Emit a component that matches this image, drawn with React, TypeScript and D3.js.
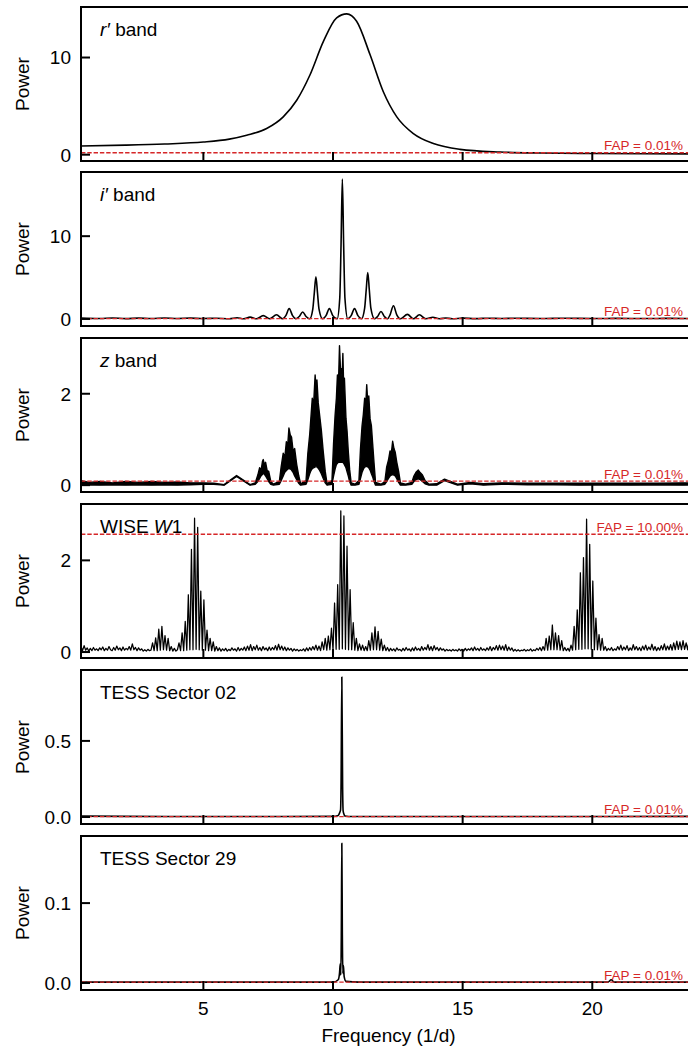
import React, { useEffect, useRef } from 'react';
import * as d3 from 'd3';

// periodogram values: [frequency (1/d), power]
const rBand: [number, number][] = [
  [0.28, 0.89], [2, 0.98], [3.5, 1.1], [5, 1.3], [6, 1.6], [6.67, 2.0], [7.44, 2.69],
  [8.08, 3.89], [8.6, 5.6], [9.11, 8.2], [9.63, 11.66], [10.14, 14.08], [10.53, 14.49],
  [10.91, 13.73], [11.43, 10.28], [11.94, 6.48], [12.46, 3.89], [13.1, 2.17], [13.87, 1.14],
  [14.9, 0.55], [16.45, 0.27], [18, 0.17], [20, 0.12], [22, 0.09], [24, 0.08],
];

const iBand: [number, number][] = [
  [0.28, 0.1], [1, 0.05], [1.5, 0.12], [2, 0.04], [2.5, 0.1], [3, 0.05], [3.5, 0.12], [4, 0.06],
  [4.5, 0.1], [5, 0.05], [5.5, 0.08], [6, 0.03], [6.3, 0.15], [6.55, 0.02], [6.8, 0.22], [7.05, 0.02],
  [7.31, 0.4], [7.55, 0.02], [7.82, 0.5], [8.06, 0.02], [8.18, 0.4], [8.31, 1.25], [8.44, 0.4],
  [8.57, 0.02], [8.7, 0.3], [8.83, 0.85], [8.96, 0.3], [9.1, 0.02], [9.22, 1.2], [9.28, 3.2],
  [9.34, 5.1], [9.4, 3.2], [9.46, 1.2], [9.6, 0.02], [9.73, 0.4], [9.86, 1.25], [9.99, 0.4],
  [10.16, 0.02], [10.26, 2.5], [10.31, 9.0], [10.36, 16.9], [10.41, 9.0], [10.46, 2.5], [10.57, 0.02],
  [10.7, 0.4], [10.83, 1.25], [10.96, 0.4], [11.1, 0.02], [11.22, 1.3], [11.28, 3.5], [11.34, 5.6],
  [11.4, 3.5], [11.46, 1.3], [11.6, 0.02], [11.72, 0.3], [11.85, 0.9], [11.98, 0.3], [12.1, 0.02],
  [12.2, 0.5], [12.33, 1.6], [12.46, 0.5], [12.6, 0.02], [12.87, 0.55], [13.1, 0.02], [13.33, 0.5],
  [13.58, 0.02], [13.85, 0.2], [14.1, 0.02], [14.35, 0.12], [14.6, 0.03], [15, 0.1], [15.5, 0.04],
  [16, 0.09], [16.5, 0.05], [17, 0.08], [18, 0.06], [19, 0.08], [20, 0.05], [21, 0.07], [22, 0.05],
  [23, 0.07], [24, 0.05],
];

// z band is too dense to resolve: [frequency, lower envelope, upper envelope]
const zBand: [number, number, number][] = [
  [0.28, 0.0, 0.1], [0.6, 0.01, 0.06], [1.0, 0.0, 0.08], [1.5, 0.01, 0.05], [2.0, 0.0, 0.08],
  [2.5, 0.01, 0.06], [3.0, 0.0, 0.08], [3.5, 0.01, 0.06], [4.0, 0.0, 0.07], [4.5, 0.01, 0.05],
  [5.0, 0.02, 0.05], [5.4, 0.02, 0.04], [5.8, 0.0, 0.01], [6.28, 0.19, 0.21], [6.8, 0.0, 0.01],
  [7.0, 0.02, 0.05], [7.1, 0.08, 0.22], [7.17, 0.15, 0.38], [7.22, 0.2, 0.3], [7.28, 0.24, 0.52],
  [7.31, 0.25, 0.56], [7.35, 0.24, 0.45], [7.4, 0.2, 0.5], [7.46, 0.14, 0.32], [7.52, 0.08, 0.3],
  [7.6, 0.02, 0.08], [7.7, 0.0, 0.02],
  [7.93, 0.02, 0.08], [8.0, 0.1, 0.4], [8.08, 0.2, 0.7], [8.14, 0.28, 0.6], [8.2, 0.32, 0.95],
  [8.25, 0.35, 0.85], [8.3, 0.36, 1.25], [8.35, 0.36, 1.1], [8.4, 0.33, 1.05], [8.46, 0.28, 0.75],
  [8.52, 0.2, 0.8], [8.6, 0.12, 0.45], [8.68, 0.04, 0.2], [8.75, 0.0, 0.03],
  [8.96, 0.02, 0.1], [9.03, 0.12, 0.7], [9.1, 0.25, 1.1], [9.15, 0.32, 1.5], [9.2, 0.36, 1.9],
  [9.25, 0.38, 1.75], [9.31, 0.4, 2.41], [9.35, 0.4, 2.1], [9.38, 0.4, 2.3], [9.43, 0.37, 1.8],
  [9.48, 0.33, 1.55], [9.55, 0.25, 1.2], [9.62, 0.15, 0.75], [9.7, 0.05, 0.3], [9.77, 0.0, 0.03],
  [9.96, 0.02, 0.1], [10.02, 0.2, 0.9], [10.08, 0.35, 1.53], [10.13, 0.45, 1.9], [10.17, 0.48, 2.41],
  [10.21, 0.5, 2.2], [10.25, 0.5, 3.05], [10.29, 0.5, 2.5], [10.32, 0.5, 2.55], [10.35, 0.5, 2.35],
  [10.38, 0.5, 2.88], [10.41, 0.48, 2.2], [10.44, 0.45, 2.34], [10.5, 0.38, 1.46], [10.54, 0.3, 1.2],
  [10.59, 0.2, 0.73], [10.64, 0.08, 0.35], [10.7, 0.0, 0.05], [10.85, 0.0, 0.02],
  [11.0, 0.02, 0.1], [11.06, 0.15, 0.8], [11.12, 0.28, 1.3], [11.17, 0.35, 1.55], [11.22, 0.4, 1.9],
  [11.26, 0.4, 1.7], [11.3, 0.42, 2.2], [11.34, 0.4, 1.8], [11.38, 0.38, 1.95], [11.43, 0.33, 1.45],
  [11.48, 0.25, 1.3], [11.53, 0.18, 0.9], [11.58, 0.08, 0.5], [11.64, 0.0, 0.06], [11.85, 0.0, 0.02],
  [12.0, 0.02, 0.08], [12.07, 0.08, 0.4], [12.14, 0.15, 0.55], [12.2, 0.2, 0.75], [12.25, 0.22, 0.7],
  [12.3, 0.23, 0.96], [12.35, 0.22, 0.8], [12.4, 0.2, 0.72], [12.46, 0.14, 0.5], [12.53, 0.06, 0.3],
  [12.6, 0.0, 0.05], [12.8, 0.0, 0.02],
  [13.04, 0.02, 0.06], [13.12, 0.08, 0.2], [13.2, 0.12, 0.28], [13.29, 0.14, 0.33], [13.37, 0.12, 0.27],
  [13.45, 0.08, 0.22], [13.55, 0.03, 0.1], [13.7, 0.0, 0.02],
  [14.0, 0.0, 0.03], [14.3, 0.1, 0.13], [14.8, 0.0, 0.02], [15.3, 0.03, 0.06], [15.8, 0.0, 0.03],
  [16.5, 0.02, 0.05], [17.5, 0.01, 0.04], [18.5, 0.01, 0.04], [19.5, 0.0, 0.04], [20.5, 0.01, 0.04],
  [21.5, 0.0, 0.04], [22.5, 0.01, 0.04], [23.5, 0.0, 0.05], [24, 0.01, 0.04],
];

// WISE W1 on its frequency grid
const wiseFreqStart = 0.28;
const wiseFreqStep = 0.06;
const wisePower = [
  0.12, 0.03, 0.14, 0.04, 0.09, 0.02, 0.08, 0.03, 0.1, 0.04, 0.07, 0.03, 0.09, 0.05, 0.11, 0.03, 0.08, 0.04, 0.12, 0.05,
  0.03, 0.1, 0.04, 0.13, 0.05, 0.09, 0.03, 0.11, 0.04, 0.08, 0.05, 0.12, 0.04, 0.18, 0.05, 0.1, 0.03, 0.09, 0.04, 0.07,
  0.02, 0.05, 0.02, 0.06, 0.03,
  0.04, 0.2, 0.03, 0.31, 0.03, 0.5, 0.04, 0.56, 0.05, 0.36, 0.04, 0.3, 0.03, 0.12, 0.02, 0.08, 0.02,
  0.05, 0.2, 0.03, 0.42, 0.03, 0.67, 0.04, 1.25, 0.05, 2.24, 0.05, 2.92, 0.06, 2.72, 0.05, 1.33, 0.04, 1.14,
  0.04, 0.48, 0.03, 0.3, 0.03, 0.22, 0.02, 0.12,
  0.03, 0.09, 0.02, 0.07, 0.03, 0.08, 0.02, 0.06, 0.03, 0.09, 0.04, 0.07, 0.02, 0.1, 0.03, 0.08, 0.04, 0.11, 0.03, 0.13,
  0.04, 0.16, 0.03, 0.12, 0.05, 0.15, 0.04, 0.1, 0.03, 0.12, 0.05, 0.09, 0.03, 0.11, 0.04, 0.1, 0.05, 0.14, 0.04, 0.17,
  0.05, 0.13, 0.04, 0.11, 0.03, 0.09, 0.04, 0.08, 0.02, 0.07, 0.03, 0.06, 0.02, 0.05, 0.03, 0.07, 0.02, 0.09, 0.03, 0.1,
  0.04, 0.12, 0.05, 0.15, 0.04, 0.13, 0.03, 0.22, 0.05, 0.3,
  0.04, 0.35, 0.05, 0.52, 0.05, 1.07, 0.06, 1.47, 0.06, 3.08, 0.07, 2.97, 0.06, 2.31, 0.05, 1.36, 0.05, 0.64, 0.04, 0.3,
  0.03, 0.18,
  0.04, 0.15, 0.03, 0.12, 0.03, 0.25, 0.04, 0.42, 0.05, 0.55, 0.05, 0.45, 0.04, 0.28, 0.03, 0.15, 0.03, 0.1, 0.02, 0.08,
  0.03, 0.07, 0.02, 0.09, 0.04, 0.06, 0.02, 0.08, 0.03, 0.1, 0.04, 0.07, 0.02, 0.09, 0.03, 0.11, 0.04, 0.08, 0.03, 0.12,
  0.04, 0.1, 0.05, 0.16, 0.04, 0.12, 0.03, 0.14, 0.05, 0.1, 0.03, 0.09, 0.04, 0.07, 0.02, 0.06, 0.03, 0.05, 0.02, 0.06,
  0.03, 0.05, 0.02, 0.07, 0.03, 0.06, 0.02, 0.08, 0.03, 0.07, 0.04, 0.09, 0.03, 0.11, 0.04, 0.08, 0.03, 0.1, 0.04, 0.07,
  0.03, 0.09, 0.04, 0.12, 0.03, 0.1, 0.05, 0.14, 0.04, 0.15, 0.05, 0.13, 0.04, 0.16, 0.03, 0.11, 0.04, 0.09, 0.02, 0.06,
  0.02, 0.05, 0.02, 0.04, 0.03, 0.06, 0.02, 0.05, 0.03, 0.07, 0.02, 0.05, 0.03, 0.08, 0.04, 0.1, 0.03, 0.12, 0.04,
  0.3, 0.04, 0.35, 0.05, 0.59, 0.05, 0.42, 0.05, 0.36, 0.04, 0.25, 0.03,
  0.1, 0.03, 0.08, 0.02, 0.15, 0.04,
  0.56, 0.05, 0.92, 0.06, 1.73, 0.06, 2.06, 0.07, 2.9, 0.07, 2.35, 0.06, 1.55, 0.05, 0.74, 0.05, 0.38, 0.04, 0.3, 0.04,
  0.12,
  0.03, 0.08, 0.04, 0.1, 0.03, 0.07, 0.04, 0.12, 0.05, 0.15, 0.04, 0.11, 0.05, 0.14, 0.03, 0.09, 0.04, 0.16, 0.05, 0.12,
  0.04, 0.1, 0.03, 0.13, 0.05, 0.15, 0.04, 0.11, 0.05, 0.17, 0.04, 0.12, 0.03, 0.1, 0.04, 0.14, 0.05, 0.18, 0.04, 0.13,
  0.05, 0.16, 0.04, 0.2, 0.05, 0.24, 0.06, 0.22, 0.05, 0.25, 0.06, 0.2, 0.05, 0.28, 0.06, 0.3, 0.05, 0.35,
];

const tess02: [number, number][] = [
  [0.28, 0.006], [2, 0.004], [5, 0.003], [8, 0.003], [10.0, 0.004], [10.2, 0.01], [10.26, 0.03],
  [10.29, 0.045], [10.31, 0.2], [10.34, 0.92], [10.37, 0.2], [10.39, 0.04], [10.42, 0.02],
  [10.46, 0.006], [10.6, 0.003], [15, 0.003], [20, 0.003], [24, 0.004],
];

const tess29: [number, number][] = [
  [0.28, 0.001], [5, 0.001], [10.0, 0.001], [10.2, 0.004], [10.25, 0.012], [10.28, 0.024],
  [10.3, 0.01], [10.32, 0.06], [10.34, 0.175], [10.36, 0.06], [10.38, 0.012], [10.4, 0.022],
  [10.43, 0.008], [10.5, 0.002], [11, 0.001], [20.6, 0.001], [20.73, 0.004], [20.85, 0.001], [24, 0.001],
];

const xTicks = [5, 10, 15, 20];
const panelLabels: [string, boolean][][] = [
  [['r′', true], [' band', false]],
  [['i′', true], [' band', false]],
  [['z', true], [' band', false]],
  [['WISE ', false], ['W', true], ['1', false]],
  [['TESS Sector 02', false]],
  [['TESS Sector 29', false]],
];
const yDomains = [[-0.65, 15.2], [-0.85, 17.75], [-0.15, 3.22], [-0.13, 3.23], [-0.046, 0.966], [-0.0088, 0.184]];
const yTicks = [[0, 10], [0, 10], [0, 2], [0, 2], [0, 0.5], [0, 0.1]];
const yTickLabels = [['0', '10'], ['0', '10'], ['0', '2'], ['0', '2'], ['0.0', '0.5'], ['0.0', '0.1']];
const fapLevels = [0.2, 0.05, 0.09, 2.57, 0.003, 0.001];
const fapLabels = ['FAP = 0.01%', 'FAP = 0.01%', 'FAP = 0.01%', 'FAP = 10.00%', 'FAP = 0.01%', 'FAP = 0.01%'];

const FONT = "'Liberation Sans', Arial, Helvetica, sans-serif";
const RED = '#d62728';

const App = () => {
  const svgRef = useRef<SVGSVGElement>(null);

  useEffect(() => {
    const width = 688;
    const height = 1052;
    const left = 81;
    const right = 696;
    const panelTops = [7, 172, 338, 504, 670, 836];
    const panelH = 154;

    const svg = d3.select(svgRef.current);
    svg.selectAll('*').remove();
    svg.attr('width', width).attr('height', height);

    const x = d3.scaleLinear().domain([0.28, 24.0]).range([left, right]);

    const wiseData: [number, number][] = wisePower.map((p, i) => [wiseFreqStart + i * wiseFreqStep, p]);
    const series: [number, number][][] = [rBand, iBand, [], wiseData, tess02, tess29];
    const strokeW = [1.6, 1.6, 1.4, 1.25, 1.6, 1.6];

    panelTops.forEach((top, k) => {
      const y = d3.scaleLinear().domain(yDomains[k]).range([top + panelH, top]);
      const g = svg.append('g');

      g.append('clipPath').attr('id', `clip${k}`)
        .append('rect').attr('x', left).attr('y', top).attr('width', right - left).attr('height', panelH);

      const plot = g.append('g').attr('clip-path', `url(#clip${k})`);

      if (k === 2) {
        const area = d3.area<[number, number, number]>()
          .x(d => x(d[0])).y0(d => y(d[1])).y1(d => y(d[2]));
        plot.append('path').datum(zBand).attr('d', area).attr('fill', '#000');
        const hi = d3.line<[number, number, number]>().x(d => x(d[0])).y(d => y(d[2]));
        const lo = d3.line<[number, number, number]>().x(d => x(d[0])).y(d => y(d[1]));
        [hi, lo].forEach(gen => {
          plot.append('path').datum(zBand).attr('d', gen)
            .attr('fill', 'none').attr('stroke', '#000').attr('stroke-width', strokeW[k])
            .attr('stroke-linejoin', 'round');
        });
      } else {
        const line = d3.line<[number, number]>()
          .x(d => x(d[0])).y(d => y(d[1]))
          .curve(k === 3 ? d3.curveLinear : d3.curveMonotoneX);
        plot.append('path').datum(series[k]).attr('d', line)
          .attr('fill', 'none').attr('stroke', '#000')
          .attr('stroke-width', strokeW[k])
          .attr('stroke-linejoin', 'round');
      }

      // false alarm probability level
      plot.append('line')
        .attr('x1', left).attr('x2', right)
        .attr('y1', y(fapLevels[k])).attr('y2', y(fapLevels[k]))
        .attr('stroke', RED).attr('stroke-width', 1.3).attr('stroke-dasharray', '4.4,1.9');

      g.append('text')
        .attr('x', 683).attr('y', y(fapLevels[k]) - 2.5)
        .attr('text-anchor', 'end')
        .attr('fill', RED)
        .style('font-family', FONT).style('font-size', '13.5px')
        .text(fapLabels[k]);

      // panel label
      const lbl = g.append('text')
        .attr('x', 100).attr('y', top + 28.5)
        .style('font-family', FONT).style('font-size', '19px').attr('fill', '#000');
      panelLabels[k].forEach(([t, it]) => {
        lbl.append('tspan').text(t).style('font-style', it ? 'italic' : 'normal');
      });

      // frame
      g.append('rect')
        .attr('x', left).attr('y', top).attr('width', right - left).attr('height', panelH)
        .attr('fill', 'none').attr('stroke', '#000').attr('stroke-width', 2);

      // inward ticks
      xTicks.forEach(t => {
        g.append('line')
          .attr('x1', x(t)).attr('x2', x(t))
          .attr('y1', top + panelH).attr('y2', top + panelH - 9)
          .attr('stroke', '#000').attr('stroke-width', 2);
      });
      yTicks[k].forEach((t, j) => {
        g.append('line')
          .attr('x1', left).attr('x2', left + 9)
          .attr('y1', y(t)).attr('y2', y(t))
          .attr('stroke', '#000').attr('stroke-width', 2);
        g.append('text')
          .attr('x', 71).attr('y', y(t)).attr('dy', '0.36em')
          .attr('text-anchor', 'end')
          .style('font-family', FONT).style('font-size', '19px')
          .text(yTickLabels[k][j]);
      });

      g.append('text')
        .attr('transform', `translate(29,${top + panelH / 2}) rotate(-90)`)
        .attr('text-anchor', 'middle')
        .style('font-family', FONT).style('font-size', '19px')
        .text('Power');

      if (k === panelTops.length - 1) {
        xTicks.forEach(t => {
          g.append('text')
            .attr('x', x(t)).attr('y', 1015)
            .attr('text-anchor', 'middle')
            .style('font-family', FONT).style('font-size', '19px')
            .text(String(t));
        });
        g.append('text')
          .attr('x', (left + right) / 2).attr('y', 1042)
          .attr('text-anchor', 'middle')
          .style('font-family', FONT).style('font-size', '19px')
          .text('Frequency (1/d)');
      }
    });
  }, []);

  return (
    <div style={{ position: 'absolute', left: 0, top: 0, width: 688, height: 1052, overflow: 'hidden', background: '#fff' }}>
      <svg ref={svgRef} style={{ display: 'block' }}></svg>
    </div>
  );
};

export default App;
